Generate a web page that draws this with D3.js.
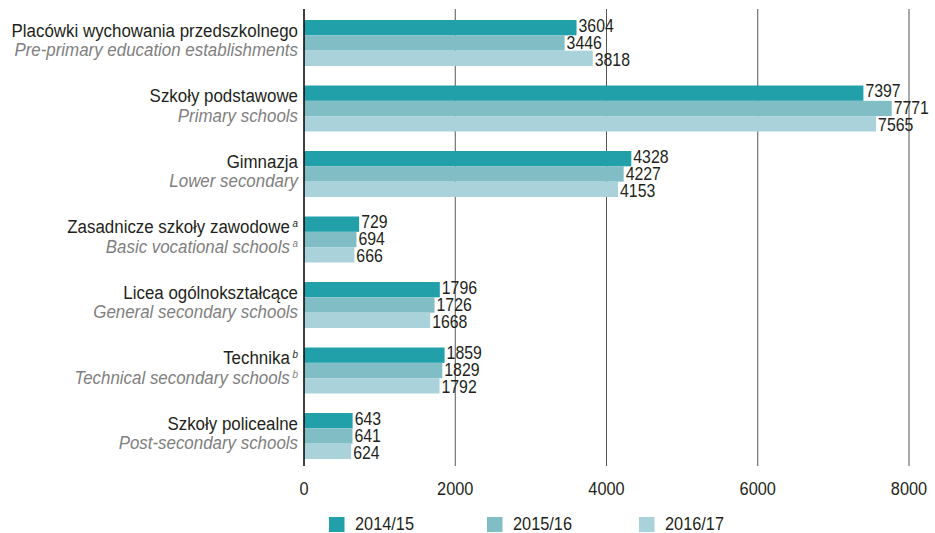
<!DOCTYPE html>
<html>
<head>
<meta charset="utf-8">
<script src="https://cdn.jsdelivr.net/npm/d3@7"></script>
<style>
  body { margin: 0; background: #fff; }
  text { font-family: "Liberation Sans", Arial, sans-serif; }
</style>
</head>
<body>
<div id="viz"></div>
<script>
var svg_width = 935;
var svg_height = 533;

var categories_pl = ['Placówki wychowania przedszkolnego', 'Szkoły podstawowe', 'Gimnazja',
  'Zasadnicze szkoły zawodowe', 'Licea ogólnokształcące', 'Technika', 'Szkoły policealne'];
var categories_en = ['Pre-primary education establishments', 'Primary schools', 'Lower secondary',
  'Basic vocational schools', 'General secondary schools', 'Technical secondary schools', 'Post-secondary schools'];
var footnotes = ['', '', '', 'a', '', 'b', ''];
var series = ['2014/15', '2015/16', '2016/17'];
var values_2014 = [3604, 7397, 4328, 729, 1796, 1859, 643];
var values_2015 = [3446, 7771, 4227, 694, 1726, 1829, 641];
var values_2016 = [3818, 7565, 4153, 666, 1668, 1792, 624];
var x_ticks = [0, 2000, 4000, 6000, 8000];
var colors = ['#21a0a9', '#80bdc5', '#a9d2db'];

var all_values = [values_2014, values_2015, values_2016];

var svg = d3.select('#viz')
  .append('svg')
  .attr('width', svg_width)
  .attr('height', svg_height);

// helper: place a text squeezed horizontally (condensed look)
function place(sel, px, py, s) {
  return sel.attr('transform', 'translate(' + px + ',' + py + ') scale(' + s + ',1)');
}

var x = d3.scaleLinear().domain([0, 8000]).range([304, 909]);
var y = d3.scaleBand().domain(d3.range(categories_pl.length)).range([6.9, 472.1]).paddingInner(0.298).paddingOuter(0.2);
var ySub = d3.scaleBand().domain(d3.range(series.length)).range([0, y.bandwidth()]);

// gridlines
svg.selectAll('line.grid')
  .data(x_ticks.slice(1))
  .enter()
  .append('line')
  .attr('x1', d => x(d)).attr('x2', d => x(d))
  .attr('y1', 9).attr('y2', 466)
  .attr('stroke', '#555')
  .attr('stroke-width', 1);

// bars
var groups = svg.selectAll('g.cat')
  .data(categories_pl)
  .enter()
  .append('g')
  .attr('transform', (d, i) => 'translate(0,' + y(i) + ')');

groups.each(function(d, i) {
  var g = d3.select(this);
  series.forEach(function(s, j) {
    var v = all_values[j][i];
    g.append('rect')
      .attr('x', x(0))
      .attr('y', ySub(j))
      .attr('width', x(v) - x(0))
      .attr('height', ySub.bandwidth())
      .attr('fill', colors[j]);
    place(g.append('text'), x(v) + 2, ySub(j) + 11.5 + j * 1.8, 0.88)
      .text(v)
      .attr('font-size', '18px')
      .attr('fill', '#231f20');
  });

  var t1 = place(g.append('text'), 298, 16.5, 0.89)
    .attr('text-anchor', 'end')
    .attr('font-size', '19px')
    .attr('fill', '#231f20');
  t1.append('tspan').text(d);
  if (footnotes[i]) {
    t1.append('tspan').text(' ' + footnotes[i]).attr('font-size', '11px').attr('font-style', 'italic').attr('dy', -6);
  }
  var t2 = place(g.append('text'), 298, 36, 0.89)
    .attr('text-anchor', 'end')
    .attr('font-size', '19px')
    .attr('font-style', 'italic')
    .attr('fill', '#808080');
  t2.append('tspan').text(categories_en[i]);
  if (footnotes[i]) {
    t2.append('tspan').text(' ' + footnotes[i]).attr('font-size', '11px').attr('dy', -6);
  }
});

// zero axis line
svg.append('line')
  .attr('x1', x(0)).attr('x2', x(0))
  .attr('y1', 9).attr('y2', 466)
  .attr('stroke', '#000')
  .attr('stroke-width', 1.5);

// tick labels
svg.selectAll('text.tick')
  .data(x_ticks)
  .enter()
  .append('text')
  .each(function(d) { place(d3.select(this), x(d), 495, 0.86); })
  .text(d => d)
  .attr('text-anchor', 'middle')
  .attr('font-size', '19px')
  .attr('fill', '#231f20');

// legend
var legend_x = [329, 487, 639];
series.forEach(function(s, j) {
  svg.append('rect')
    .attr('x', legend_x[j]).attr('y', 517)
    .attr('width', 15.5).attr('height', 15)
    .attr('fill', colors[j]);
  place(svg.append('text'), legend_x[j] + 26, 529.5, 0.86)
    .text(s)
    .attr('font-size', '19px')
    .attr('fill', '#231f20');
});
</script>
</body>
</html>
